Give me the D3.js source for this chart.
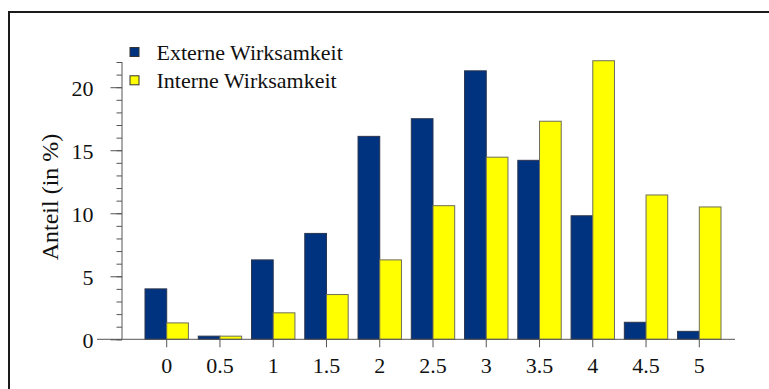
<!DOCTYPE html>
<html>
<head>
<meta charset="utf-8">
<script src="https://cdn.jsdelivr.net/npm/d3@7/dist/d3.min.js"></script>
<style>
  html, body { margin: 0; padding: 0; background: #fff; }
  svg { display: block; }
</style>
</head>
<body>
<svg id="chart" width="769" height="389"></svg>
<script>
// Categories on the x axis (rating steps)
const categories = ["0", "0.5", "1", "1.5", "2", "2.5", "3", "3.5", "4", "4.5", "5"];
// Share in percent per category
const externeValues = [4.0, 0.25, 6.3, 8.4, 16.1, 17.5, 21.3, 14.2, 9.8, 1.35, 0.63];
const interneValues = [1.3, 0.25, 2.1, 3.55, 6.3, 10.6, 14.45, 17.3, 22.1, 11.45, 10.5];
const seriesNames = ["Externe Wirksamkeit", "Interne Wirksamkeit"];
const yMajorTicks = [0, 5, 10, 15, 20];
const yLabel = "Anteil (in %)";

const colors = ["#00337f", "#ffff00"];
const strokes = ["#2a3550", "#6e6e5a"];
const serif = "Liberation Serif";
const textColor = "#111";

const svg = d3.select("#chart");

// Outer frame (left and top edges visible)
svg.append("path")
  .attr("d", "M9,389 L9,12 L769,12")
  .attr("fill", "none")
  .attr("stroke", "#1a1a1a")
  .attr("stroke-width", 2);

const y = d3.scaleLinear().domain([0, 22]).range([339.3, 62]);

const step = (699.3 - 166.7) / 10;
const x = d3.scaleBand()
  .domain(categories)
  .range([166.7 - step / 2, 699.3 + step / 2])
  .paddingInner(0.185)
  .paddingOuter(0.0925);

const xSub = d3.scaleBand()
  .domain(seriesNames)
  .range([0, x.bandwidth()]);

const rows = categories.map((c, i) => ({ cat: c, vals: [externeValues[i], interneValues[i]] }));

// Bars
const groups = svg.append("g").selectAll("g")
  .data(rows)
  .join("g")
  .attr("transform", d => `translate(${x(d.cat)},0)`);

groups.selectAll("rect")
  .data(d => d.vals.map((v, k) => ({ v, k })))
  .join("rect")
  .attr("x", d => xSub(seriesNames[d.k]))
  .attr("y", d => y(d.v))
  .attr("width", xSub.bandwidth())
  .attr("height", d => y(0) - y(d.v))
  .attr("fill", d => colors[d.k])
  .attr("stroke", d => strokes[d.k])
  .attr("stroke-width", 1);

const axisColor = "#555";

// Y axis: minor ticks every unit, labelled major ticks every 5
const yAxisX = 122;
const yMinor = d3.axisLeft(y).tickValues(d3.range(0, 23, 1)).tickSize(5.5).tickFormat("");
const gMinor = svg.append("g").attr("transform", `translate(${yAxisX},0)`).call(yMinor);
gMinor.select(".domain").remove();
gMinor.selectAll("line").attr("stroke", axisColor);

const yMajor = d3.axisLeft(y).tickValues(yMajorTicks).tickSize(11.5).tickPadding(17).tickFormat(d3.format("d"));
const gMajor = svg.append("g").attr("transform", `translate(${yAxisX},0)`).call(yMajor);
gMajor.attr("font-family", null).attr("font-size", null);
gMajor.select(".domain").remove();
gMajor.selectAll("line").attr("stroke", axisColor);
gMajor.selectAll("text")
  .style("font-family", serif)
  .style("font-size", "22px")
  .attr("fill", textColor)
  .attr("dy", "0.36em");

svg.append("line")
  .attr("x1", yAxisX).attr("x2", yAxisX)
  .attr("y1", y(0)).attr("y2", y(22))
  .attr("stroke", axisColor).attr("stroke-width", 1);

// X axis
const xCenter = d => x(d) + x.bandwidth() / 2;
svg.append("line")
  .attr("x1", 97).attr("x2", 735)
  .attr("y1", y(0)).attr("y2", y(0))
  .attr("stroke", axisColor).attr("stroke-width", 1);

const xt = svg.append("g").selectAll("g")
  .data(categories)
  .join("g")
  .attr("transform", d => `translate(${xCenter(d)},${y(0)})`);
xt.append("line").attr("y1", 0).attr("y2", 8).attr("stroke", axisColor);
xt.append("text")
  .attr("y", 34)
  .attr("text-anchor", "middle")
  .attr("fill", textColor)
  .style("font-family", serif)
  .style("font-size", "22px")
  .text(d => d);

// Y axis title
svg.append("text")
  .attr("transform", `translate(58,197) rotate(-90)`)
  .attr("text-anchor", "middle")
  .attr("fill", textColor)
  .style("font-family", serif)
  .style("font-size", "24px")
  .text(yLabel);

// Legend
const legend = svg.append("g").selectAll("g")
  .data(seriesNames)
  .join("g")
  .attr("transform", (d, i) => `translate(130,${47.5 + i * 28.3})`);
legend.append("rect")
  .attr("width", 9).attr("height", 9)
  .attr("fill", (d, i) => colors[i])
  .attr("stroke", "#333").attr("stroke-width", 1);
legend.append("text")
  .attr("x", 26.5).attr("y", 12.5)
  .attr("fill", textColor)
  .style("font-family", serif)
  .style("font-size", "22px")
  .text(d => d);
</script>
</body>
</html>
